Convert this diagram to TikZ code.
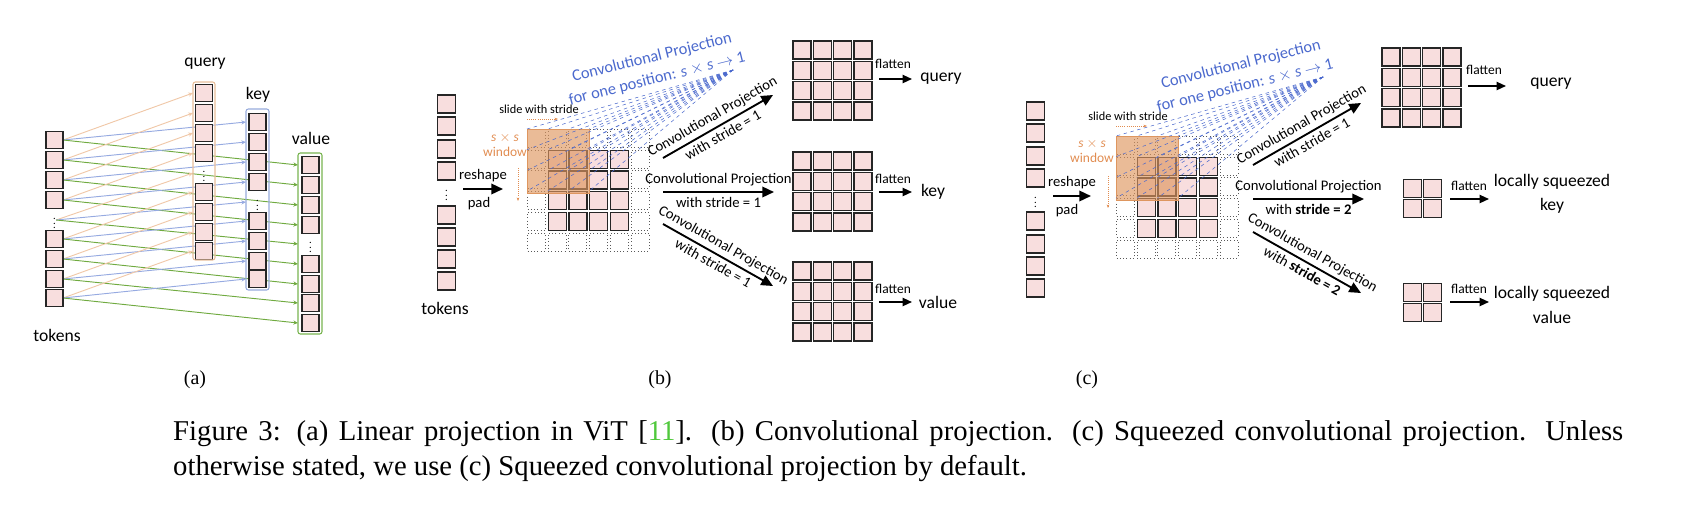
\documentclass[tikz,border=0pt]{standalone}
\usepackage{fontspec}
\setmainfont{Carlito}
\newfontfamily\capfont{Liberation Serif}
\usetikzlibrary{arrows.meta,backgrounds}
\definecolor{pinkc}{RGB}{248,222,222}
\definecolor{oline}{RGB}{240,200,168}
\definecolor{bline}{RGB}{150,170,225}
\definecolor{gline}{RGB}{112,170,64}
\definecolor{oframe}{RGB}{232,190,155}
\definecolor{bframe}{RGB}{150,170,220}
\definecolor{gframe}{RGB}{120,180,80}
\definecolor{wincol}{RGB}{222,150,95}
\definecolor{bdash}{RGB}{75,105,205}
\definecolor{otext}{RGB}{225,140,80}
\definecolor{citeg}{RGB}{80,200,60}
\tikzset{
  tok/.style={draw=black!85,fill=pinkc,line width=1pt,minimum size=0.51cm,inner sep=0pt,outer sep=0pt},
  cell/.style={draw=black!85,fill=pinkc,line width=1.1pt,minimum size=0.54cm,inner sep=0pt,outer sep=0pt},
  dcell/.style={draw=black!65,dotted,line width=0.8pt,minimum size=0.54cm,inner sep=0pt},
  vd/.style={inner sep=0pt,font=\fontsize{9}{9}\selectfont},
  frm/.style={rounded corners=2pt,line width=0.9pt},
  la/.style={line width=0.8pt,-{Stealth[length=4pt,width=3.5pt]}},
  big/.style={line width=1.6pt,-{Triangle[length=10pt,width=9pt]}},
  flat/.style={line width=1.4pt,-{Triangle[length=8pt,width=7pt]}},
  lbl/.style={font=\fontsize{15}{15}\selectfont,inner sep=0pt},
  sm/.style={font=\fontsize{12.5}{12.5}\selectfont,inner sep=1pt},
  rs/.style={font=\fontsize{12.5}{12.5}\selectfont,inner sep=0pt},
  fl/.style={font=\fontsize{11.5}{11.5}\selectfont,inner sep=1pt},
  tiny/.style={font=\fontsize{10.5}{10.5}\selectfont,inner sep=0pt},
  bt/.style={font=\fontsize{14}{14}\selectfont,text=bdash,inner sep=0pt,rotate=14},
  ot/.style={font=\fontsize{11.5}{13}\selectfont,text=otext,inner sep=0pt,align=center},
  bdl/.style={bdash,dashed,line width=0.45pt},
  odl/.style={otext,densely dotted,line width=0.8pt,-{Stealth[length=3pt]}},
  sub/.style={font=\capfont\fontsize{17}{17}\selectfont,inner sep=0pt},
}
\begin{document}
\begin{tikzpicture}[x=0.03cm,y=-0.03cm]
\useasboundingbox (0,0) rectangle (1696,522);
% ================= (a)
\foreach \y [count=\i] in {140,160,180,200,220,239,259,279,298}{
  \ifnum\i=5 \node[vd] (t\i) at (54.5,\y) {$\vdots$};
  \else \node[tok] (t\i) at (54.5,\y) {};\fi}
\foreach \y [count=\i] in {93,113,133,153,173,192,212,232,251}{
  \ifnum\i=5 \node[vd] (q\i) at (204,\y) {$\vdots$};
  \else \node[tok] (q\i) at (204,\y) {};\fi}
\foreach \y [count=\i] in {122,142,162,182,202,221,241,261,279}{
  \ifnum\i=5 \node[vd] (k\i) at (257.5,\y) {$\vdots$};
  \else \node[tok] (k\i) at (257.5,\y) {};\fi}
\foreach \y [count=\i] in {165,185,205,225,244,264,284,303,323}{
  \ifnum\i=5 \node[vd] (v\i) at (310.5,\y) {$\vdots$};
  \else \node[tok] (v\i) at (310.5,\y) {};\fi}
\draw[frm,oframe] (193,82) rectangle (215,260);
\draw[frm,bframe] (246,109) rectangle (269,290);
\draw[frm,gframe] (298,153) rectangle (322,334);
\begin{scope}[on background layer]
\foreach \i in {1,...,9}{
  \draw[la,oline] (t\i.east) -- (193,0|-q\i);
  \draw[la,bline] (t\i.east) -- (246,0|-k\i);
  \draw[la,gline] (t\i.east) -- (298,0|-v\i);}
\end{scope}
\node[lbl] (qa) at (205,64) {query};
\node[lbl] (ka) at (258,95) {key};
\node[lbl] (va) at (311,138) {value};
\node[lbl] (ta) at (57,335) {tokens};
\node[sub] (ca) at (195,380) {(a)};
% ================= (b)
\foreach \y [count=\i] in {104,126,149,171,192,215,237,259,281}{
  \ifnum\i=5 \node[vd] (bt\i) at (446.5,\y) {$\vdots$};
  \else \node[tok,minimum size=0.54cm] (bt\i) at (446.5,\y) {};\fi}
\node[lbl] (tb) at (445,308) {tokens};
\coordinate (brs) at (463,189); \coordinate (bre) at (503,189);
\draw[big] (brs) -- (bre);
\node[rs] (brl) at (483,176) {reshape};
\node[rs] (bpl) at (479,204) {pad};
\foreach \i in {0,...,5}\foreach \j in {0,...,5}{
  \pgfmathtruncatemacro\inn{and(and(\i>0,\i<5),and(\j>0,\j<5))}
  \ifnum\inn=1 \node[cell] (bg\i\j) at ({536.5+20.7*\j},{138.5+20.7*\i}) {};
  \else \node[dcell] (bg\i\j) at ({536.5+20.7*\j},{138.5+20.7*\i}) {};\fi}
\fill[wincol,opacity=0.65] (527,129) rectangle (589,193);
\draw[wincol,line width=0.6pt] (527,129) rectangle (589,193);
\coordinate (bapex) at (733,70);
\foreach \a in {0,...,3}\foreach \b in {0,...,3}
  \draw[bdl] (bapex) -- ({527+20.7*\a},{129+20.7*\b});
\node[bt] (bb1) at (652,58) {Convolutional Projection};
\node[bt] (bb2) at (657,79) {for one position: \textit{s} $\times$ \textit{s} $\rightarrow$ 1};
\node[tiny] (bsl) at (539,109) {slide with stride};
\coordinate (bs1) at (527,119); \coordinate (bs2) at (558,119);
\draw[odl] (bs1) -- (bs2);
\node[ot] (bsw) at (505,145) {\textit{s} $\times$ \textit{s}\\window};
\coordinate (bv1) at (518,168); \coordinate (bv2) at (518,201);
\draw[odl] (bv1) -- (bv2);
\coordinate (bu1) at (663,158); \coordinate (bu2) at (773,95);
\draw[big] (bu1) -- node[sm,sloped,above=2pt]{Convolutional Projection} node[sm,sloped,below=2pt]{with stride = 1} (bu2);
\coordinate (bm1) at (663,192); \coordinate (bm2) at (774,192);
\draw[big] (bm1) -- node[sm,above=3pt]{Convolutional Projection} node[sm,below=3pt]{with stride = 1} (bm2);
\coordinate (bd1) at (663,224); \coordinate (bd2) at (773,286);
\draw[big] (bd1) -- node[sm,sloped,above=2pt]{Convolutional Projection} node[sm,sloped,below=2pt]{with stride = 1} (bd2);
\foreach \gy/\nm in {41/bq,152/bk,262/bv}{
  \foreach \i in {0,...,3}\foreach \j in {0,...,3}
    \node[cell] (\nm\i\j) at ({802+20.3*\j},{\gy+9+20.3*\i}) {};}
\coordinate (bf1a) at (879,79); \coordinate (bf1b) at (912,79);
\draw[flat] (bf1a) -- (bf1b);
\node[fl] (bf1) at (893,64) {flatten};
\node[lbl] (bqo) at (941,79) {query};
\coordinate (bf2a) at (879,192); \coordinate (bf2b) at (912,192);
\draw[flat] (bf2a) -- (bf2b);
\node[fl] (bf2) at (893,179) {flatten};
\node[lbl] (bko) at (933,192) {key};
\coordinate (bf3a) at (879,302); \coordinate (bf3b) at (912,302);
\draw[flat] (bf3a) -- (bf3b);
\node[fl] (bf3) at (893,289) {flatten};
\node[lbl] (bvo) at (938,302) {value};
\node[sub] (cb) at (660,380) {(b)};
% ================= (c)
\foreach \y [count=\i] in {111,133,156,178,199,221,244,266,288}{
  \ifnum\i=5 \node[vd] (ct\i) at (1035.5,\y) {$\vdots$};
  \else \node[tok,minimum size=0.54cm] (ct\i) at (1035.5,\y) {};\fi}
\coordinate (crs) at (1053,196); \coordinate (cre) at (1091,196);
\draw[big] (crs) -- (cre);
\node[rs] (crl) at (1072,183) {reshape};
\node[rs] (cpl) at (1067,211) {pad};
\foreach \i in {0,...,5}\foreach \j in {0,...,5}{
  \pgfmathtruncatemacro\inn{and(and(\i>0,\i<5),and(\j>0,\j<5))}
  \ifnum\inn=1 \node[cell] (cg\i\j) at ({1125.5+20.7*\j},{145.5+20.7*\i}) {};
  \else \node[dcell] (cg\i\j) at ({1125.5+20.7*\j},{145.5+20.7*\i}) {};\fi}
\fill[wincol,opacity=0.65] (1116,136) rectangle (1178,200);
\draw[wincol,line width=0.6pt] (1116,136) rectangle (1178,200);
\coordinate (capex) at (1323,77);
\foreach \a in {0,...,3}\foreach \b in {0,...,3}
  \draw[bdl] (capex) -- ({1116+20.7*\a},{136+20.7*\b});
\node[bt] (cb1) at (1241,65) {Convolutional Projection};
\node[bt] (cb2) at (1245,86) {for one position: \textit{s} $\times$ \textit{s} $\rightarrow$ 1};
\node[tiny] (csl) at (1128,116) {slide with stride};
\coordinate (cs1) at (1116,126); \coordinate (cs2) at (1147,126);
\draw[odl] (cs1) -- (cs2);
\node[ot] (csw) at (1092,151) {\textit{s} $\times$ \textit{s}\\window};
\coordinate (cv1) at (1108,176); \coordinate (cv2) at (1108,208);
\draw[odl] (cv1) -- (cv2);
\coordinate (cu1) at (1253,165); \coordinate (cu2) at (1361,103);
\draw[big] (cu1) -- node[sm,sloped,above=2pt]{Convolutional Projection} node[sm,sloped,below=2pt]{with stride = 1} (cu2);
\coordinate (cm1) at (1253,199); \coordinate (cm2) at (1364,199);
\draw[big] (cm1) -- node[sm,above=3pt]{Convolutional Projection} node[sm,below=3pt]{with \textbf{stride = 2}} (cm2);
\coordinate (cd1) at (1253,232); \coordinate (cd2) at (1361,293);
\draw[big] (cd1) -- node[sm,sloped,above=2pt]{Convolutional Projection} node[sm,sloped,below=2pt]{with \textbf{stride = 2}} (cd2);
\foreach \i in {0,...,3}\foreach \j in {0,...,3}
  \node[cell] (cq\i\j) at ({1391+20.3*\j},{57+20.3*\i}) {};
\foreach \gy/\nm in {179/ck,283/cv}{
  \foreach \i in {0,1}\foreach \j in {0,1}
    \node[cell] (\nm\i\j) at ({1412.5+20.3*\j},{\gy+9.5+20.3*\i}) {};}
\coordinate (cf1a) at (1468,86); \coordinate (cf1b) at (1506,86);
\draw[flat] (cf1a) -- (cf1b);
\node[fl] (cf1) at (1484,70) {flatten};
\node[lbl] (cqo) at (1551,84) {query};
\coordinate (cf2a) at (1450,199); \coordinate (cf2b) at (1489,199);
\draw[flat] (cf2a) -- (cf2b);
\node[fl] (cf2) at (1469,186) {flatten};
\node[lbl,align=center,font=\fontsize{15}{21}\selectfont] (cko) at (1552,194) {locally squeezed\\key};
\coordinate (cf3a) at (1450,302); \coordinate (cf3b) at (1489,302);
\draw[flat] (cf3a) -- (cf3b);
\node[fl] (cf3) at (1469,289) {flatten};
\node[lbl,align=center,font=\fontsize{15}{21}\selectfont] (cvo) at (1552,305) {locally squeezed\\value};
\node[sub] (cc) at (1087,380) {(c)};
% ================= caption
\node[anchor=north west,inner sep=0pt,text width=43.5cm,align=justify,
  font=\capfont\fontsize{24.5}{30}\selectfont] (cap) at (173,420)
  {Figure 3: (a) Linear projection in ViT [\textcolor{citeg}{11}]. (b) Convolutional projection. (c) Squeezed convolutional projection. Unless otherwise stated, we use (c) Squeezed convolutional projection by default.};
\end{tikzpicture}
\end{document}
